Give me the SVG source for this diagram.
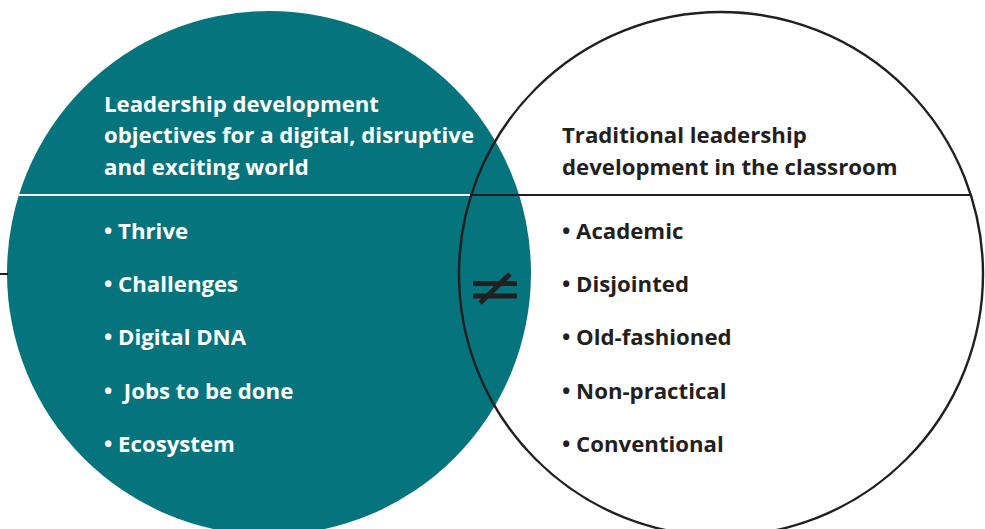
<svg xmlns="http://www.w3.org/2000/svg" width="985" height="529" viewBox="0 0 985 529">
  <style>
    .txt { font-family: "Open Sans", "Noto Sans", "DejaVu Sans", sans-serif; font-weight: 700; font-size: 22.2px; }
    .light { fill: #ffffff; }
    .dark { fill: #231f20; }
  </style>
  <rect x="0" y="0" width="985" height="529" fill="#ffffff"/>

  <!-- Left circle: digital leadership objectives -->
  <g id="node-digital">
    <circle cx="269" cy="273" r="262" fill="#06747d"/>
    <line x1="19" y1="195" x2="470" y2="195" stroke="#ffffff" stroke-width="2.2"/>
    <text class="txt light" x="104" y="111.5">Leadership development</text>
    <text class="txt light" x="104" y="143">objectives for a digital, disruptive</text>
    <text class="txt light" x="104" y="174.5">and exciting world</text>
    <text class="txt light" x="104" y="238.5">• Thrive</text>
    <text class="txt light" x="104" y="291.5">• Challenges</text>
    <text class="txt light" x="104" y="345">• Digital DNA</text>
    <text class="txt light" x="104" y="398.5">•&#160; Jobs to be done</text>
    <text class="txt light" x="104" y="451.5">• Ecosystem</text>
  </g>

  <!-- Right circle: traditional classroom development -->
  <g id="node-traditional">
    <circle cx="721" cy="274" r="262" fill="none" stroke="#231f20" stroke-width="2.4"/>
    <line x1="470" y1="195" x2="971" y2="195" stroke="#231f20" stroke-width="2.2"/>
    <text class="txt dark" x="562" y="143">Traditional leadership</text>
    <text class="txt dark" x="562" y="174.5">development in the classroom</text>
    <text class="txt dark" x="562" y="238.5">• Academic</text>
    <text class="txt dark" x="562" y="291.5">• Disjointed</text>
    <text class="txt dark" x="562" y="345">• Old-fashioned</text>
    <text class="txt dark" x="562" y="398.5">• Non-practical</text>
    <text class="txt dark" x="562" y="451.5">• Conventional</text>
  </g>

  <!-- Connectors: lead-in stub and the "not equal" relation -->
  <g id="connectors">
    <line x1="0" y1="274" x2="8" y2="274" stroke="#231f20" stroke-width="2"/>
    <g id="not-equal" stroke="#231f20" stroke-width="5">
      <line x1="473" y1="283.5" x2="517" y2="283.5"/>
      <line x1="473" y1="296" x2="517" y2="296"/>
      <line x1="480" y1="303" x2="510" y2="274"/>
    </g>
  </g>
</svg>
